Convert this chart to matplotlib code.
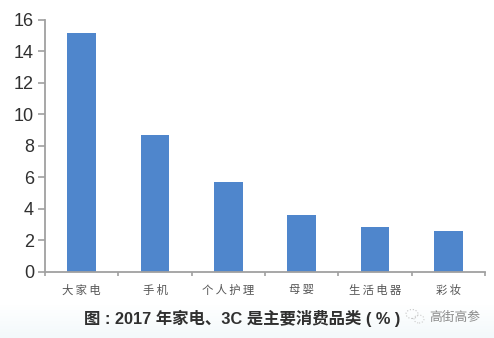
import numpy as np
import matplotlib
matplotlib.use("Agg")
import matplotlib.pyplot as plt
from matplotlib.patches import Ellipse

plt.rcParams['font.family'] = ['Liberation Sans', 'Noto Sans CJK SC', 'DejaVu Sans']

W, H = 494, 338

categorias = ["大家电", "手机", "个人护理", "母婴", "生活电器", "彩妆"]
valores = [15.2, 8.7, 5.7, 3.6, 2.85, 2.55]
ticks_y = [0, 2, 4, 6, 8, 10, 12, 14, 16]
titulo = "图 : 2017 年家电、3C 是主要消费品类 ( % )"
marca = "高街高参"

fig = plt.figure(figsize=(W / 100, H / 100), dpi=100, facecolor="white")

# Franja inferior algo azulada, como en la captura:
fondo = fig.add_axes([0, 0, 1, 1], zorder=0)
fondo.axis("off")
franja = np.linspace(0, 1, 32).reshape(-1, 1)
fondo.imshow(franja, extent=[0, W, 0, 34], aspect="auto", cmap=matplotlib.colors.LinearSegmentedColormap.from_list("f", ["#ffffff", "#f3f9fb"]))
fondo.set_xlim(0, W)
fondo.set_ylim(0, H)

# Icono tenue junto a la marca de agua:
fondo.add_patch(Ellipse((412, H - 314), 12, 9, fill=False, ec="#c4c4c4", lw=0.8, ls=":"))
fondo.add_patch(Ellipse((419, H - 319), 10, 8, fill=False, ec="#cccccc", lw=0.8, ls=":"))

ax = fig.add_axes([45 / W, 1 - 271.5 / H, 440 / W, 251.5 / H], zorder=1)
ax.patch.set_alpha(0)

x = np.arange(len(categorias))
ax.bar(x, valores, width=0.39, color="#4f86cc")

ax.set_xlim(-0.5, 5.5)
ax.set_ylim(0, 16)
ax.set_yticks(ticks_y)
ax.set_xticks(np.arange(-0.5, 6, 1))
ax.set_xticklabels([])
ax.tick_params(axis="y", direction="out", length=5, width=1.2, color="#a0a0a0", labelsize=13, labelcolor="#303030", pad=3)
ax.tick_params(axis="x", direction="out", length=3, width=1.2, color="#a0a0a0")

for lado in ["top", "right"]:
    ax.spines[lado].set_visible(False)
for lado in ["left", "bottom"]:
    ax.spines[lado].set_color("#a0a0a0")
    ax.spines[lado].set_linewidth(1.3)

for xi, cat in zip(x, categorias):
    ax.annotate("\u2009".join(cat), (xi, 0), xytext=(0, -13.5), textcoords="offset points",
                ha="center", va="center", fontsize=8.2, color="#555555",
                family=['Noto Sans CJK SC', 'DejaVu Sans'])

fig.text(242 / W, 1 - 318.5 / H, titulo, ha="center", va="center", fontsize=11.8,
         fontweight="bold", color="#303030")
fig.text(455 / W, 1 - 317 / H, marca, ha="center", va="center", fontsize=9.2,
         color="#8a8a8a", family=['Noto Sans CJK SC', 'DejaVu Sans'])

fig.savefig("out.png", dpi=100)
